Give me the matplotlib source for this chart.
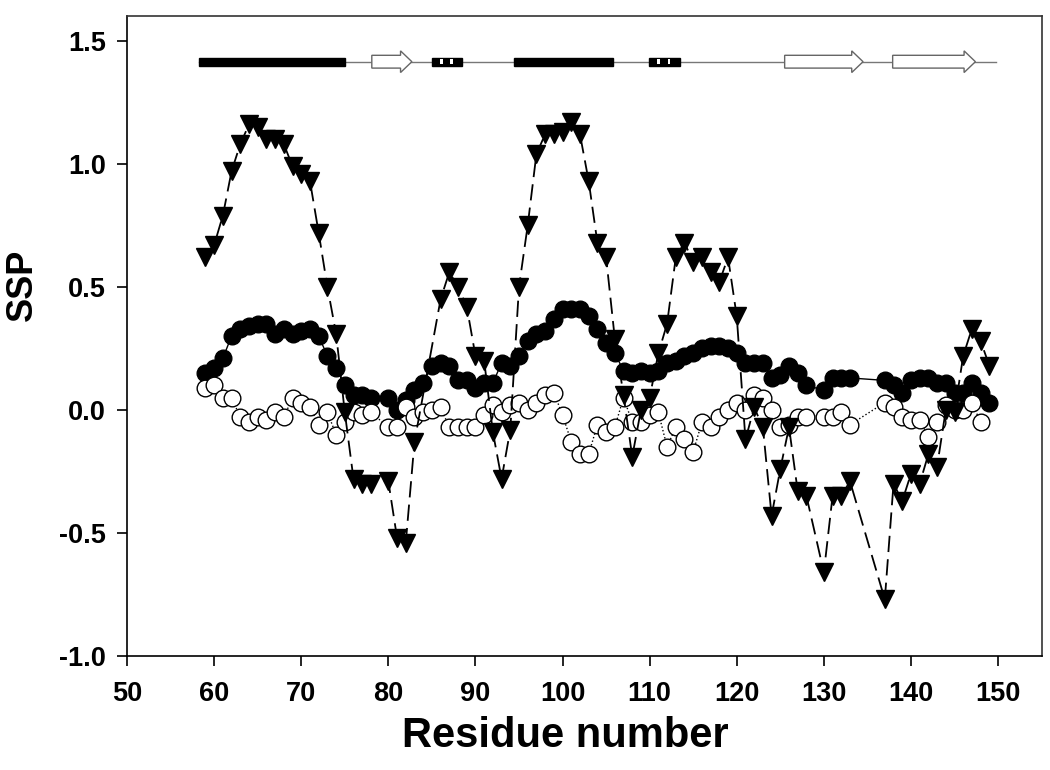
import matplotlib
matplotlib.use("Agg")
import matplotlib.pyplot as plt
from matplotlib.patches import Rectangle, Polygon

plt.rcParams['font.family'] = ['Liberation Sans', 'DejaVu Sans']

# filled circles (solid line)
res_filled = [59, 60, 61, 62, 63, 64, 65, 66, 67, 68, 69, 70, 71, 72, 73, 74, 75, 76, 77, 78,
              80, 81, 82, 83, 84, 85, 86, 87, 88, 89, 90, 91, 92, 93, 94, 95, 96, 97, 98, 99,
              100, 101, 102, 103, 104, 105, 106, 107, 108, 109, 110, 111, 112, 113, 114, 115,
              116, 117, 118, 119, 120, 121, 122, 123, 124, 125, 126, 127, 128, 130, 131, 132,
              133, 137, 138, 139, 140, 141, 142, 143, 144, 145, 146, 147, 148, 149]
ssp_filled = [0.15, 0.17, 0.21, 0.30, 0.33, 0.34, 0.35, 0.35, 0.31, 0.33, 0.31, 0.32, 0.33, 0.30,
              0.22, 0.17, 0.10, 0.06, 0.06, 0.05, 0.05, 0.00, 0.04, 0.08, 0.11, 0.18, 0.19, 0.18,
              0.12, 0.12, 0.09, 0.11, 0.11, 0.19, 0.18, 0.22, 0.28, 0.31, 0.32, 0.37, 0.41, 0.41,
              0.41, 0.38, 0.33, 0.27, 0.23, 0.16, 0.15, 0.16, 0.15, 0.16, 0.19, 0.20, 0.22, 0.23,
              0.25, 0.26, 0.26, 0.25, 0.23, 0.19, 0.19, 0.19, 0.13, 0.14, 0.18, 0.15, 0.10, 0.08,
              0.13, 0.13, 0.13, 0.12, 0.10, 0.07, 0.12, 0.13, 0.13, 0.11, 0.11, 0.07, 0.07, 0.11,
              0.07, 0.03]

# open circles (dotted line)
res_open = [59, 60, 61, 62, 63, 64, 65, 66, 67, 68, 69, 70, 71, 72, 73, 74, 75, 76, 77, 78,
            80, 81, 82, 83, 84, 85, 86, 87, 88, 89, 90, 91, 92, 93, 94, 95, 96, 97, 98, 99,
            100, 101, 102, 103, 104, 105, 106, 107, 108, 109, 110, 111, 112, 113, 114, 115,
            116, 117, 118, 119, 120, 121, 122, 123, 124, 125, 126, 127, 128, 130, 131, 132,
            133, 137, 138, 139, 140, 141, 142, 143, 144, 145, 146, 147, 148]
ssp_open = [0.09, 0.10, 0.05, 0.05, -0.03, -0.05, -0.03, -0.04, -0.01, -0.03, 0.05, 0.03, 0.01,
            -0.06, -0.01, -0.10, -0.05, -0.01, -0.02, -0.01, -0.07, -0.07, 0.01, -0.03, -0.01,
            0.00, 0.01, -0.07, -0.07, -0.07, -0.07, -0.02, 0.02, -0.01, 0.02, 0.03, 0.00, 0.03,
            0.06, 0.07, -0.02, -0.13, -0.18, -0.18, -0.06, -0.09, -0.07, 0.05, -0.05, -0.05,
            -0.02, -0.01, -0.15, -0.07, -0.12, -0.17, -0.05, -0.07, -0.03, 0.00, 0.03, 0.00,
            0.06, 0.05, 0.00, -0.07, -0.06, -0.03, -0.03, -0.03, -0.03, -0.01, -0.06, 0.03,
            0.01, -0.03, -0.04, -0.04, -0.11, -0.05, 0.02, 0.00, 0.00, 0.03, -0.05]

# down triangles (dashed line)
res_tri = [59, 60, 61, 62, 63, 64, 65, 66, 67, 68, 69, 70, 71, 72, 73, 74, 75, 76, 77, 78,
           80, 81, 82, 83, 86, 87, 88, 89, 90, 91, 92, 93, 94, 95, 96, 97, 98, 99, 100, 101,
           102, 103, 104, 105, 106, 107, 108, 109, 110, 111, 112, 113, 114, 115, 116, 117,
           118, 119, 120, 121, 122, 123, 124, 125, 126, 127, 128, 130, 131, 132, 133, 137,
           138, 139, 140, 141, 142, 143, 144, 145, 146, 147, 148, 149]
ssp_tri = [0.62, 0.67, 0.79, 0.97, 1.08, 1.16, 1.15, 1.10, 1.10, 1.08, 0.99, 0.96, 0.93, 0.72,
           0.50, 0.31, -0.01, -0.28, -0.30, -0.30, -0.29, -0.52, -0.54, -0.13, 0.45, 0.56,
           0.50, 0.42, 0.22, 0.20, -0.09, -0.28, -0.08, 0.50, 0.75, 1.04, 1.12, 1.12, 1.13,
           1.17, 1.12, 0.93, 0.68, 0.62, 0.29, 0.06, -0.19, 0.00, 0.05, 0.23, 0.35, 0.62, 0.68,
           0.60, 0.62, 0.56, 0.52, 0.62, 0.38, -0.12, 0.01, -0.07, -0.43, -0.24, -0.07, -0.33,
           -0.35, -0.66, -0.35, -0.35, -0.29, -0.77, -0.30, -0.37, -0.26, -0.30, -0.18, -0.23,
           0.00, -0.01, 0.22, 0.33, 0.28, 0.18]

# secondary structure (residue ranges)
ss_line = (58.3, 149.8)
helices = [(58.3, 75.0), (94.4, 105.8)]
strands = [(78.1, 82.7), (125.5, 134.5), (137.9, 147.4)]
turns = [(85.0, 88.5), (109.9, 113.5)]

fig = plt.figure(figsize=(10.5, 7.7), dpi=100)
ax = fig.add_axes([0.121, 0.148, 0.871, 0.831])

ax.plot(res_filled, ssp_filled, '-', color='black', lw=1.0, marker='o', ms=12,
        mfc='black', mec='black', zorder=3)
ax.plot(res_open, ssp_open, ':', color='black', lw=1.0, marker='o', ms=12,
        mfc='white', mec='black', mew=1.0, zorder=4)
ax.plot(res_tri, ssp_tri, color='black', lw=1.3, dashes=(9, 4), marker='v', ms=12.5,
        mfc='black', mec='black', zorder=5)

# secondary structure diagram
y_ss = 1.415
ax.plot(ss_line, [y_ss, y_ss], color='#777777', lw=1.0, zorder=2)
for a, b in helices:
    ax.add_patch(Rectangle((a, y_ss - 0.016), b - a, 0.032, fc='black', ec='black', zorder=3))
for a, b in turns:
    w = b - a
    ax.add_patch(Rectangle((a, y_ss - 0.016), w, 0.032, fc='black', ec='black', zorder=3))
    for f0, f1 in [(0.27, 0.36), (0.6, 0.69)]:
        ax.add_patch(Rectangle((a + f0 * w, y_ss - 0.011), (f1 - f0) * w, 0.022,
                               fc='white', ec='none', zorder=4))
for a, b in strands:
    hl = 1.3
    bh, hh = 0.026, 0.044
    pts = [(a, y_ss - bh), (b - hl, y_ss - bh), (b - hl, y_ss - hh), (b, y_ss),
           (b - hl, y_ss + hh), (b - hl, y_ss + bh), (a, y_ss + bh)]
    ax.add_patch(Polygon(pts, closed=True, fc='white', ec='#666666', lw=1.0, zorder=3))

ax.set_xlim(50, 155)
ax.set_ylim(-1.0, 1.6)
ax.set_xticks(range(50, 151, 10))
ax.set_yticks([-1.0, -0.5, 0.0, 0.5, 1.0, 1.5])
ax.set_yticklabels(['-1.0', '-0.5', '0.0', '0.5', '1.0', '1.5'])
ax.tick_params(direction='out', length=7, width=1.2, labelsize=19.5, top=False, right=False)
ax.tick_params(axis='x', pad=11)
ax.tick_params(axis='y', pad=8)
for lab in ax.get_xticklabels() + ax.get_yticklabels():
    lab.set_fontweight('bold')
ax.spines['top'].set_color('#333333')
ax.spines['right'].set_color('#333333')
for s in ax.spines.values():
    s.set_linewidth(1.2)

ax.set_xlabel('Residue number', fontsize=30, fontweight='bold')
ax.xaxis.set_label_coords(0.479, -0.094)
ax.set_ylabel('SSP', fontsize=26, fontweight='bold')
ax.yaxis.set_label_coords(-0.095, 0.58)

fig.savefig('out.png', dpi=100)
plt.close(fig)
